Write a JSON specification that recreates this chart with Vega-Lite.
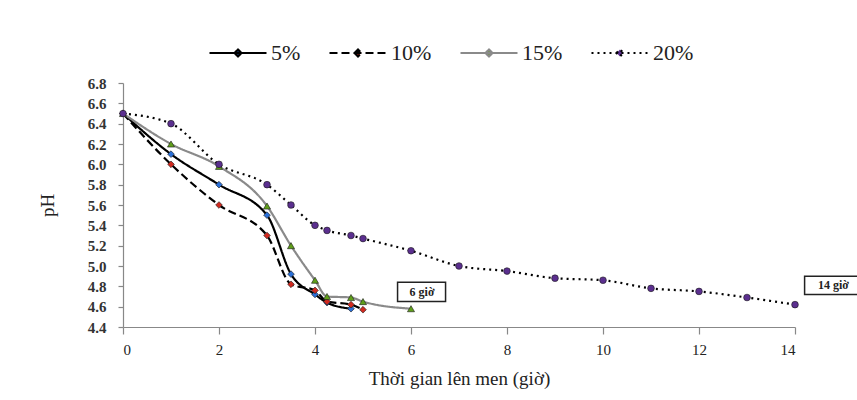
{
  "$schema": "https://vega.github.io/schema/vega-lite/v6.json",
  "autosize": "none",
  "width": 672,
  "height": 244,
  "padding": {"left": 123, "top": 83, "right": 62, "bottom": 73},
  "background": "white",
  "config": {
    "view": {"stroke": null},
    "font": "Liberation Serif",
    "legend": {"labelFont": "Liberation Serif", "labelFontSize": 22},
    "axis": {"labelFont": "Liberation Serif", "titleFont": "Liberation Serif", "labelColor": "#333", "titleColor": "#222", "domainColor": "#888", "tickColor": "#888", "domainWidth": 1.2, "tickWidth": 1.2, "grid": false, "labelFontSize": 15, "titleFontSize": 19, "titleFontWeight": "normal", "labelFontWeight": "bold"}
  },
  "datasets": {
    "d": [
      {"t": 0, "ph": 6.5, "s": "5%"},
      {"t": 1, "ph": 6.1, "s": "5%"},
      {"t": 2, "ph": 5.8, "s": "5%"},
      {"t": 3, "ph": 5.5, "s": "5%"},
      {"t": 3.5, "ph": 4.92, "s": "5%"},
      {"t": 4, "ph": 4.72, "s": "5%"},
      {"t": 4.25, "ph": 4.64, "s": "5%"},
      {"t": 4.75, "ph": 4.58, "s": "5%"},
      {"t": 0, "ph": 6.5, "s": "10%"},
      {"t": 1, "ph": 6.0, "s": "10%"},
      {"t": 2, "ph": 5.6, "s": "10%"},
      {"t": 3, "ph": 5.3, "s": "10%"},
      {"t": 3.5, "ph": 4.82, "s": "10%"},
      {"t": 4, "ph": 4.76, "s": "10%"},
      {"t": 4.25, "ph": 4.65, "s": "10%"},
      {"t": 4.75, "ph": 4.62, "s": "10%"},
      {"t": 5, "ph": 4.57, "s": "10%"},
      {"t": 0, "ph": 6.5, "s": "15%"},
      {"t": 1, "ph": 6.2, "s": "15%"},
      {"t": 2, "ph": 5.98, "s": "15%"},
      {"t": 3, "ph": 5.59, "s": "15%"},
      {"t": 3.5, "ph": 5.2, "s": "15%"},
      {"t": 4, "ph": 4.86, "s": "15%"},
      {"t": 4.25, "ph": 4.7, "s": "15%"},
      {"t": 4.75, "ph": 4.69, "s": "15%"},
      {"t": 5, "ph": 4.65, "s": "15%"},
      {"t": 6, "ph": 4.58, "s": "15%"},
      {"t": 0, "ph": 6.5, "s": "20%"},
      {"t": 1, "ph": 6.4, "s": "20%"},
      {"t": 2, "ph": 6.0, "s": "20%"},
      {"t": 3, "ph": 5.8, "s": "20%"},
      {"t": 3.5, "ph": 5.6, "s": "20%"},
      {"t": 4, "ph": 5.4, "s": "20%"},
      {"t": 4.25, "ph": 5.35, "s": "20%"},
      {"t": 4.75, "ph": 5.3, "s": "20%"},
      {"t": 5, "ph": 5.27, "s": "20%"},
      {"t": 6, "ph": 5.15, "s": "20%"},
      {"t": 7, "ph": 5.0, "s": "20%"},
      {"t": 8, "ph": 4.95, "s": "20%"},
      {"t": 9, "ph": 4.88, "s": "20%"},
      {"t": 10, "ph": 4.86, "s": "20%"},
      {"t": 11, "ph": 4.78, "s": "20%"},
      {"t": 12, "ph": 4.75, "s": "20%"},
      {"t": 13, "ph": 4.69, "s": "20%"},
      {"t": 14, "ph": 4.62, "s": "20%"}
    ],
    "notes": [
      {"t": 6.23, "ph": 4.745, "x1": 5.72, "x2": 6.72, "y1": 4.84, "y2": 4.65, "label": "6 giờ"},
      {"t": 14.8, "ph": 4.815, "x1": 14.2, "x2": 15.35, "y1": 4.9, "y2": 4.72, "label": "14 giờ"}
    ]
  },
  "layer": [
    {
      "data": {"name": "d"},
      "mark": {"type": "line", "interpolate": "monotone"},
      "encoding": {
        "x": {"field": "t", "type": "quantitative", "scale": {"domain": [0, 14], "nice": false},
          "axis": {"values": [0, 2, 4, 6, 8, 10, 12, 14], "tickSize": 7,
            "title": "Thời gian lên men (giờ)", "labelPadding": 8, "titlePadding": 12, "labelFontWeight": "normal", "labelColor": "#222", "labelFontSize": 15}},
        "y": {"field": "ph", "type": "quantitative", "scale": {"domain": [4.4, 6.8], "nice": false, "zero": false},
          "axis": {"values": [4.4, 4.6, 4.8, 5, 5.2, 5.4, 5.6, 5.8, 6, 6.2, 6.4, 6.6, 6.8], "tickCount": 13, "format": ".1f", "title": "pH", "tickSize": 5, "labelPadding": 12, "titlePadding": 30, "labelOverlap": false, "labelSeparation": 0, "labelFontSize": 15}},
        "stroke": {"field": "s", "type": "nominal", "scale": {"domain": ["5%", "10%", "15%", "20%"], "range": ["#000000", "#000000", "#8a8a8a", "#000000"]},
          "legend": {"orient": "none", "legendX": 85, "legendY": -60, "direction": "horizontal", "title": null, "labelFontSize": 22, "labelFont": "Liberation Serif", "labelColor": "#222", "symbolType": "M-1,0H1M-0.12,0L0,-0.12L0.12,0L0,0.12Z", "symbolSize": 3250, "symbolStrokeWidth": 2.5, "columnPadding": 24, "labelOffset": 3}},
        "strokeDash": {"field": "s", "type": "nominal", "scale": {"domain": ["5%", "10%", "15%", "20%"], "range": [[1, 0], [8, 4], [1, 0], [2, 4]]}},
        "strokeWidth": {"field": "s", "type": "nominal", "scale": {"domain": ["5%", "10%", "15%", "20%"], "range": [2.2, 2.2, 3.5, 2.2]}, "legend": null}
      }
    },
    {
      "data": {"name": "d"},
      "transform": [{"filter": "datum.s === '5%' || datum.s === '10%'"}],
      "mark": {"type": "point", "shape": "diamond", "filled": true, "size": 45, "stroke": "#1a1a1a", "strokeWidth": 0.6, "opacity": 1},
      "encoding": {
        "x": {"field": "t", "type": "quantitative"},
        "y": {"field": "ph", "type": "quantitative"},
        "fill": {"field": "s", "type": "nominal", "scale": {"domain": ["5%", "10%", "15%", "20%"], "range": ["#2a6fd6", "#d02a20", "#5f9e1a", "#5b2f8f"]}}
      }
    },
    {
      "data": {"name": "d"},
      "transform": [{"filter": "datum.s === '15%'"}],
      "mark": {"type": "point", "shape": "triangle-up", "filled": true, "size": 50, "stroke": "#1a1a1a", "strokeWidth": 0.6, "opacity": 1},
      "encoding": {
        "x": {"field": "t", "type": "quantitative"},
        "y": {"field": "ph", "type": "quantitative"},
        "fill": {"field": "s", "type": "nominal"}
      }
    },
    {
      "data": {"name": "d"},
      "transform": [{"filter": "datum.s === '20%'"}],
      "mark": {"type": "point", "shape": "circle", "filled": true, "size": 45, "stroke": "#1a1a1a", "strokeWidth": 0.6, "opacity": 1},
      "encoding": {
        "x": {"field": "t", "type": "quantitative"},
        "y": {"field": "ph", "type": "quantitative"},
        "fill": {"field": "s", "type": "nominal"}
      }
    },
    {
      "data": {"name": "notes"},
      "mark": {"type": "rect", "fill": "white", "stroke": "#222", "strokeWidth": 1.5, "clip": false},
      "encoding": {
        "x": {"field": "x1", "type": "quantitative"},
        "x2": {"field": "x2"},
        "y": {"field": "y1", "type": "quantitative"},
        "y2": {"field": "y2"}
      }
    },
    {
      "data": {"name": "notes"},
      "mark": {"type": "text", "font": "Liberation Serif", "fontSize": 12, "fontWeight": "bold", "color": "#222", "clip": false},
      "encoding": {
        "x": {"field": "t", "type": "quantitative"},
        "y": {"field": "ph", "type": "quantitative"},
        "text": {"field": "label"}
      }
    }
  ]
}
